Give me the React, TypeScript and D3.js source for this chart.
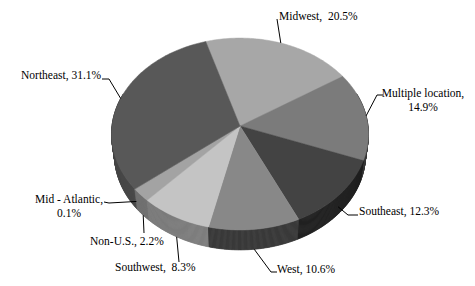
import React from "react";
import * as d3 from "d3";

const categories = ["Midwest", "Multiple location", "Southeast", "West", "Southwest", "Non-U.S.", "Mid - Atlantic", "Northeast"];
const values = [20.5, 14.9, 12.3, 10.6, 8.3, 2.2, 0.1, 31.1];
const labelTexts = [
  ["Midwest,\u00a0 20.5%"],
  ["Multiple location,", "14.9%"],
  ["Southeast, 12.3%"],
  ["West, 10.6%"],
  ["Southwest,\u00a0 8.3%"],
  ["Non-U.S., 2.2%"],
  ["Mid - Atlantic,", "0.1%"],
  ["Northeast, 31.1%"],
];

// styles
const topColors = ["#a7a7a7", "#7b7b7b", "#434343", "#888888", "#c4c4c4", "#a3a3a3", "#8f8f8f", "#585858"];
const sideFactors = [0.6, 0.5, 0.5, 0.42, 0.64, 0.7, 0.7, 0.85];

// label layout: x, y (baseline of first line), anchor, leader: h (0..1 of depth) & path bends
const labelLayout = [
  { x: 279, y: 20, anchor: "start", h: 0, pts: [[277, 19]] },
  { x: 423, y: 97, anchor: "middle", h: 0, pts: [[377, 95], [383, 95]] },
  { x: 359, y: 215, anchor: "start", h: 0.6, pts: [[348, 215], [358, 215]] },
  { x: 277, y: 273, anchor: "start", h: 1, pts: [[271, 272], [277, 272]] },
  { x: 115, y: 271, anchor: "start", h: 1, pts: [[179, 262]] },
  { x: 90, y: 245, anchor: "start", h: 1, pts: [[144, 233]] },
  { x: 69, y: 203, anchor: "middle", h: 0.6, pts: [[109, 203], [104, 202]] },
  { x: 21, y: 79, anchor: "start", h: 0, pts: [[109, 79], [102, 79]] },
];

const W = 475, Hh = 286;
const cx = 240, cy = 126;
const alpha = (48.1 * Math.PI) / 180;
const Dist = 8, focal = 1024, depth = 0.247;
const startDeg = -16.8;
const FONT = "'Liberation Serif', 'Times New Roman', 'DejaVu Serif', serif";

function proj(theta: number, h: number): [number, number] {
  const X = Math.sin(theta);
  const Z = -Math.cos(theta);
  const yc = Z * Math.sin(alpha) + h * depth * Math.cos(alpha);
  const dd = Dist - Z * Math.cos(alpha) + h * depth * Math.sin(alpha);
  return [cx + (focal * X) / dd, cy + (focal * yc) / dd];
}

export default function App() {
  const start = (startDeg * Math.PI) / 180;
  const pie = d3.pie<number>().sort(null).startAngle(start).endAngle(start + 2 * Math.PI);
  const arcs = pie(values);
  const line = d3.line();
  const step = Math.PI / 360;

  type Quad = { d: string; fill: string; z: number };
  const quads: Quad[] = [];
  arcs.forEach((a, i) => {
    const base = d3.color(topColors[i])!.rgb();
    for (let t = a.startAngle; t < a.endAngle - 1e-9; t += step) {
      const t2 = Math.min(t + step * 1.2, a.endAngle);
      const tm = (t + t2) / 2;
      const v = -Math.cos(tm);
      if (v < -0.35) continue;
      const edge = 0.8 + 0.2 * Math.sqrt(Math.max(0, v));
      const f = sideFactors[i] * edge;
      const col = d3.rgb(base.r * f, base.g * f, base.b * f).formatHex();
      const p = [proj(t, 0), proj(t2, 0), proj(t2, 1), proj(t, 1)];
      quads.push({ d: line(p as [number, number][])! + "Z", fill: col, z: v });
    }
  });
  quads.sort((a, b) => a.z - b.z);

  const tops = arcs.map((a, i) => {
    const pts: [number, number][] = [[cx, cy]];
    const n = Math.max(2, Math.ceil((a.endAngle - a.startAngle) / (Math.PI / 180)));
    for (let k = 0; k <= n; k++) {
      const t = a.startAngle + ((a.endAngle - a.startAngle) * k) / n;
      pts.push(proj(t, 0));
    }
    return { d: line(pts)! + "Z", fill: topColors[i] };
  });

  const leaders = arcs.map((a, i) => {
    const L = labelLayout[i];
    const mid = (a.startAngle + a.endAngle) / 2;
    const anchor = proj(mid, L.h);
    const pts = [anchor, ...(L.pts as [number, number][])];
    return line(pts as [number, number][])!;
  });

  return (
    <svg width={W} height={Hh} style={{ position: "absolute", left: 0, top: 0, background: "#fff" }}>
      <rect width={W} height={Hh} fill="#fff" />
      {quads.map((q, i) => (
        <path key={"s" + i} d={q.d} fill={q.fill} stroke={q.fill} strokeWidth={0.6} />
      ))}
      {tops.map((t, i) => (
        <path key={"t" + i} d={t.d} fill={t.fill} stroke={t.fill} strokeWidth={0.5} />
      ))}
      {leaders.map((d, i) => (
        <path key={"l" + i} d={d} fill="none" stroke="#000" strokeWidth={1} />
      ))}
      {categories.map((c, i) => {
        const L = labelLayout[i];
        return (
          <text key={"x" + i} x={L.x} y={L.y} textAnchor={L.anchor as any} fontFamily={FONT} fontSize={11.5} fill="#000">
            {labelTexts[i].map((s, j) => (
              <tspan key={j} x={L.x} dy={j === 0 ? 0 : 14}>{s}</tspan>
            ))}
          </text>
        );
      })}
    </svg>
  );
}
